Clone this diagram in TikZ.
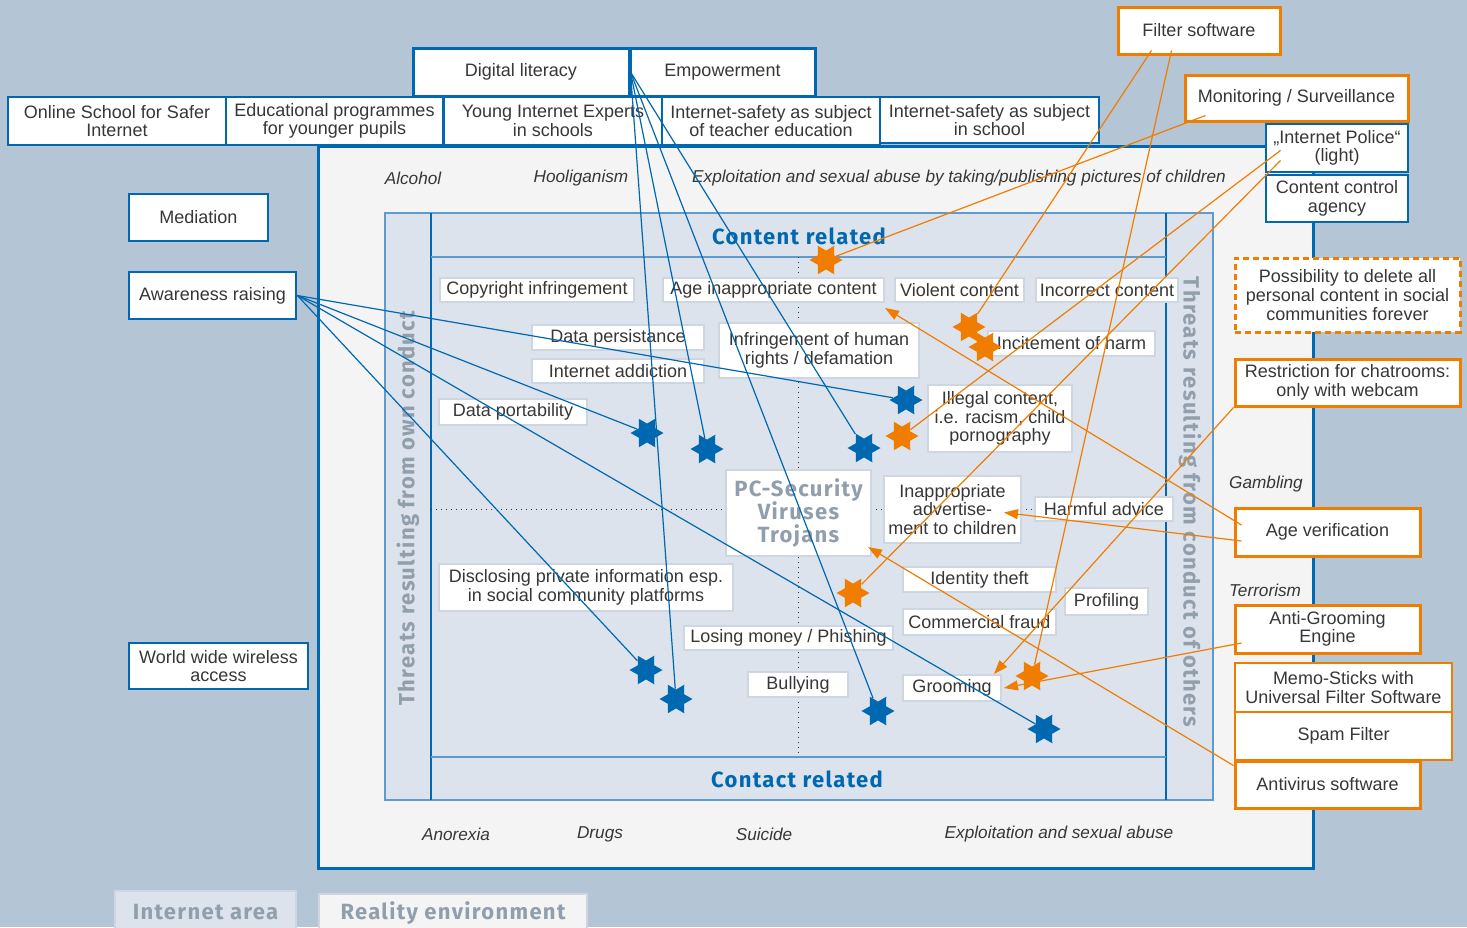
\documentclass[tikz,border=0pt]{standalone}
\usepackage{fontspec}
\setmainfont{Liberation Sans}
\newfontfamily\headfam{Fira Sans}[LetterSpace=6]
\usetikzlibrary{shapes.geometric,arrows.meta}

\definecolor{skyback}{RGB}{180,197,214}
\definecolor{realfill}{RGB}{244,244,244}
\definecolor{netfill}{RGB}{220,227,236}
\definecolor{netline}{RGB}{95,155,205}
\definecolor{ebblue}{RGB}{0,104,176}
\definecolor{eborange}{RGB}{240,125,0}
\definecolor{txtgray}{RGB}{55,55,55}
\definecolor{headgray}{RGB}{145,158,172}
\definecolor{threatline}{RGB}{205,214,225}

\newcommand{\boxfont}{\fontsize{9}{9.3}\selectfont}
\newcommand{\tagfont}{\fontsize{8.6}{9}\selectfont\itshape}
\newcommand{\headfont}{\fontsize{11}{11.5}\selectfont\headfam\bfseries}

\tikzset{
  measure/.style={draw=ebblue, line width=1.4pt, fill=white, text=txtgray, font=\boxfont, align=center, inner sep=0pt},
  schoolbox/.style={measure, line width=1pt},
  tool/.style={draw=eborange, line width=1.5pt, fill=white, text=txtgray, font=\boxfont, align=center, inner sep=0pt},
  thintool/.style={tool, line width=0.8pt},
  threat/.style={draw=threatline, line width=1pt, fill=white, text=txtgray, font=\boxfont, align=center, inner sep=0pt},
  risk/.style={text=txtgray, font=\tagfont},
  hit/.style={star, star points=6, star point ratio=1.75, shape border rotate=90, inner sep=0pt, minimum size=16.5pt},
  bluehit/.style={hit, fill=ebblue},
  orahit/.style={hit, fill=eborange},
  blink/.style={draw=ebblue, line width=0.6pt},
  olink/.style={draw=eborange, line width=0.6pt},
  oarrow/.style={olink, -{Triangle[length=7pt,width=5pt]}}
}

\begin{document}
\begin{tikzpicture}[x=0.5pt,y=-0.5pt]
\useasboundingbox[fill=skyback] (0,0) rectangle (1467,927);

% ----------------------------------------------------------
% Reality environment and Internet area
% ----------------------------------------------------------
\draw[ebblue, line width=1.5pt, fill=realfill] (318,146) rectangle (1313,868);
\draw[netline, line width=0.8pt, fill=netfill] (385,213) rectangle (1213,800);
\draw[ebblue, line width=0.6pt] (431,213) -- (431,800);
\draw[ebblue, line width=0.6pt] (1166,213) -- (1166,800);
\draw[netline, line width=0.8pt] (431,257) -- (1166,257);
\draw[netline, line width=0.8pt] (431,757) -- (1166,757);

% quadrant lines
\draw[txtgray, dotted, line width=0.5pt] (798,257) -- (798,757);
\draw[txtgray, dotted, line width=0.5pt] (431,509) -- (1166,509);

\node[text=ebblue, font=\headfont] (content) at (799,236) {Content related};
\node[text=ebblue, font=\headfont] (contact) at (797,779) {Contact related};
\node[text=headgray, font=\headfont, rotate=90] (own) at (408,508) {Threats resulting from own conduct};
\node[text=headgray, font=\headfont, rotate=-90] (others) at (1190,502) {Threats resulting from conduct of others};

\node[threat, fill=netfill, draw=threatline, minimum width=90.5pt, minimum height=21pt, text=headgray, font=\headfont] (netarea) at (205.5,912) {Internet area};
\node[threat, fill=realfill, draw=threatline, minimum width=134pt, minimum height=19pt, text=headgray, font=\headfont] (realarea) at (453,913) {Reality environment};

% Risks of the reality environment
\node[risk] (alc) at (413,178) {Alcohol};
\node[risk] (hool) at (581,178) {Hooliganism};
\node[risk] (expl) at (959,178) {Exploitation and sexual abuse by taking/publishing pictures of children};
\node[risk] (gamb) at (1266,484) {Gambling};
\node[risk] (terr) at (1265,590) {Terrorism};
\node[risk] (anor) at (456,834) {Anorexia};
\node[risk] (drug) at (600,834) {Drugs};
\node[risk] (suic) at (764,834) {Suicide};
\node[risk] (sexab) at (1059,834) {Exploitation and sexual abuse};

% ----------------------------------------------------------
% Threats
% ----------------------------------------------------------
\node[threat, minimum width=97pt, minimum height=12pt] (cpy) at (537,290) {Copyright infringement};
\node[threat, minimum width=110.5pt, minimum height=12pt] (agec) at (773.5,290) {Age inappropriate content};
\node[threat, minimum width=64.5pt, minimum height=12pt] (vio) at (959.5,290) {Violent content};
\node[threat, minimum width=71pt, minimum height=12pt] (inc) at (1107,290) {Incorrect content};
\node[threat, minimum width=86pt, minimum height=12.5pt] (dper) at (618,337.5) {Data persistance};
\node[threat, minimum width=86pt, minimum height=12pt] (iadd) at (618,371) {Internet addiction};
\node[threat, minimum width=100pt, minimum height=27.5pt] (ihr) at (819,350.5) {Infringement of human\\rights / defamation};
\node[threat, minimum width=83.5pt, minimum height=12.5pt] (inh) at (1071.5,343.5) {Incitement of harm};
\node[threat, minimum width=74pt, minimum height=13pt] (dpo) at (513,412) {Data portability};
\node[threat, minimum width=72pt, minimum height=33.5pt] (ill) at (1000,418.5) {Illegal content,\\i.e. racism, child\\pornography};
\node[threat, minimum width=72.5pt, minimum height=43pt, text=headgray, font=\headfont] (pcs) at (798.5,513) {PC-Security\\Viruses\\Trojans};
\node[threat, minimum width=68.5pt, minimum height=33.5pt] (adv) at (952.5,509.5) {Inappropriate\\advertise-\\ment to children};
\node[threat, minimum width=69pt, minimum height=12pt] (harm) at (1104,509) {Harmful advice};
\node[threat, minimum width=147pt, minimum height=23.5pt] (disc) at (586,587.5) {Disclosing private information esp.\\in social community platforms};
\node[threat, minimum width=76.5pt, minimum height=12.5pt] (idt) at (979.5,579.5) {Identity theft};
\node[threat, minimum width=41.5pt, minimum height=13.5pt] (prof) at (1106.5,601.5) {Profiling};
\node[threat, minimum width=76.5pt, minimum height=13pt] (cfr) at (979.5,622) {Commercial fraud};
\node[threat, minimum width=104.5pt, minimum height=12pt] (lmo) at (788.5,638) {Losing money / Phishing};
\node[threat, minimum width=50pt, minimum height=12.5pt] (bul) at (798,684.5) {Bullying};
\node[threat, minimum width=49pt, minimum height=13pt] (gro) at (952,688) {Grooming};

% ----------------------------------------------------------
% Measures (education and awareness)
% ----------------------------------------------------------
\node[schoolbox, minimum width=109pt, minimum height=24pt] (onl) at (117,121) {Online School for Safer\\Internet};
\node[schoolbox, minimum width=108.5pt, minimum height=24pt] (edu) at (334.5,121) {Educational programmes\\for younger pupils};
\node[schoolbox, minimum width=109pt, minimum height=24pt] (yie) at (553,121) {Young Internet Experts\\in schools};
\node[schoolbox, minimum width=109pt, minimum height=24pt] (ist) at (771,121) {Internet-safety as subject\\of teacher education};
\node[schoolbox, minimum width=109.5pt, minimum height=23pt] (iss) at (989.5,120) {Internet-safety as subject\\in school};
\node[measure, line width=1.5pt, minimum width=108pt, minimum height=24pt] (dig) at (521,72) {Digital literacy};
\node[measure, line width=1.5pt, minimum width=92.5pt, minimum height=24pt] (emp) at (722.5,72) {Empowerment};
\node[measure, minimum width=69.5pt, minimum height=23.5pt] (med) at (198.5,217.5) {Mediation};
\node[measure, minimum width=83.5pt, minimum height=23.5pt] (awa) at (212.5,295.5) {Awareness raising};
\node[measure, minimum width=89.5pt, minimum height=23pt] (wwa) at (218.5,666) {World wide wireless\\access};
\node[measure, minimum width=71pt, minimum height=24pt] (ipol) at (1337,148) {„Internet Police“\\(light)};
\node[measure, minimum width=71pt, minimum height=23.5pt] (cca) at (1337,198.5) {Content control\\agency};

% ----------------------------------------------------------
% Measures (technical)
% ----------------------------------------------------------
\node[tool, minimum width=81pt, minimum height=23.5pt] (filt) at (1199,30.5) {Filter software};
\node[tool, minimum width=111.5pt, minimum height=23pt] (mon) at (1296.5,98) {Monitoring / Surveillance};
\node[tool, dash pattern=on 3pt off 2pt, minimum width=112.5pt, minimum height=37pt] (del) at (1347.5,295) {Possibility to delete all\\personal content in social\\communities forever};
\node[tool, minimum width=112.5pt, minimum height=23.5pt] (rest) at (1347.5,382.5) {Restriction for chatrooms:\\only with webcam};
\node[tool, minimum width=92.5pt, minimum height=24pt] (age) at (1327.5,532) {Age verification};
\node[tool, minimum width=92.5pt, minimum height=24pt] (agr) at (1327.5,629) {Anti-Grooming\\Engine};
\node[thintool, minimum width=108.5pt, minimum height=24.5pt] (memo) at (1343.5,687.5) {Memo-Sticks with\\Universal Filter Software};
\node[thintool, minimum width=108.5pt, minimum height=24pt] (spam) at (1343.5,736) {Spam Filter};
\node[tool, minimum width=92.5pt, minimum height=23.5pt] (anti) at (1327.5,784.5) {Antivirus software};

% ----------------------------------------------------------
% Hits
% ----------------------------------------------------------
\node[bluehit] (b1) at (647,433) {};
\node[bluehit] (b2) at (707,449) {};
\node[bluehit] (b3) at (864,448) {};
\node[bluehit] (b4) at (906,400) {};
\node[bluehit] (b5) at (646,670) {};
\node[bluehit] (b6) at (676,699) {};
\node[bluehit] (b7) at (878,711) {};
\node[bluehit] (b8) at (1044,729) {};

\node[orahit] (o1) at (826,260) {};
\node[orahit] (o2) at (969,327) {};
\node[orahit] (o3) at (985,347) {};
\node[orahit] (o4) at (902,436) {};
\node[orahit] (o5) at (853,593) {};
\node[orahit] (o6) at (1032,676) {};

% Digital literacy and awareness raising
\foreach \s in {b6,b2,b7,b3} {
    \draw[blink] (dig.east) -- (\s);
}
\foreach \s in {b4,b1,b8,b5} {
    \draw[blink] (awa.east) -- (\s);
}

% technical measures
\draw[olink] ([xshift=17.5pt,yshift=2.5pt]filt.south west) -- (o2);
\draw[olink] ([xshift=27.5pt,yshift=2.5pt]filt.south west) -- (o6);
\draw[olink] ([xshift=11pt,yshift=3.5pt]mon.south west) -- (o1);
\draw[olink] ([xshift=8pt,yshift=11.5pt]ipol.south west) -- (o4);
\draw[olink] ([xshift=8pt,yshift=6.5pt]ipol.south west) -- (o5);
\draw[oarrow] (rest.south west) -- ([xshift=-4pt]gro.north east);
\draw[oarrow] ([xshift=4pt,yshift=-7pt]agr.west) -- ([xshift=1pt]gro.east);
\draw[oarrow] ([xshift=4pt,yshift=3.5pt]age.west) -- ([yshift=-2.5pt]agec.south east);
\draw[oarrow] ([xshift=4pt,yshift=-4.5pt]age.west) -- ([xshift=-9pt,yshift=-1.5pt]adv.east);
\draw[oarrow] ([yshift=-3pt]anti.north west) -- ([xshift=-2pt,yshift=5pt]pcs.south east);

\end{tikzpicture}
\end{document}
